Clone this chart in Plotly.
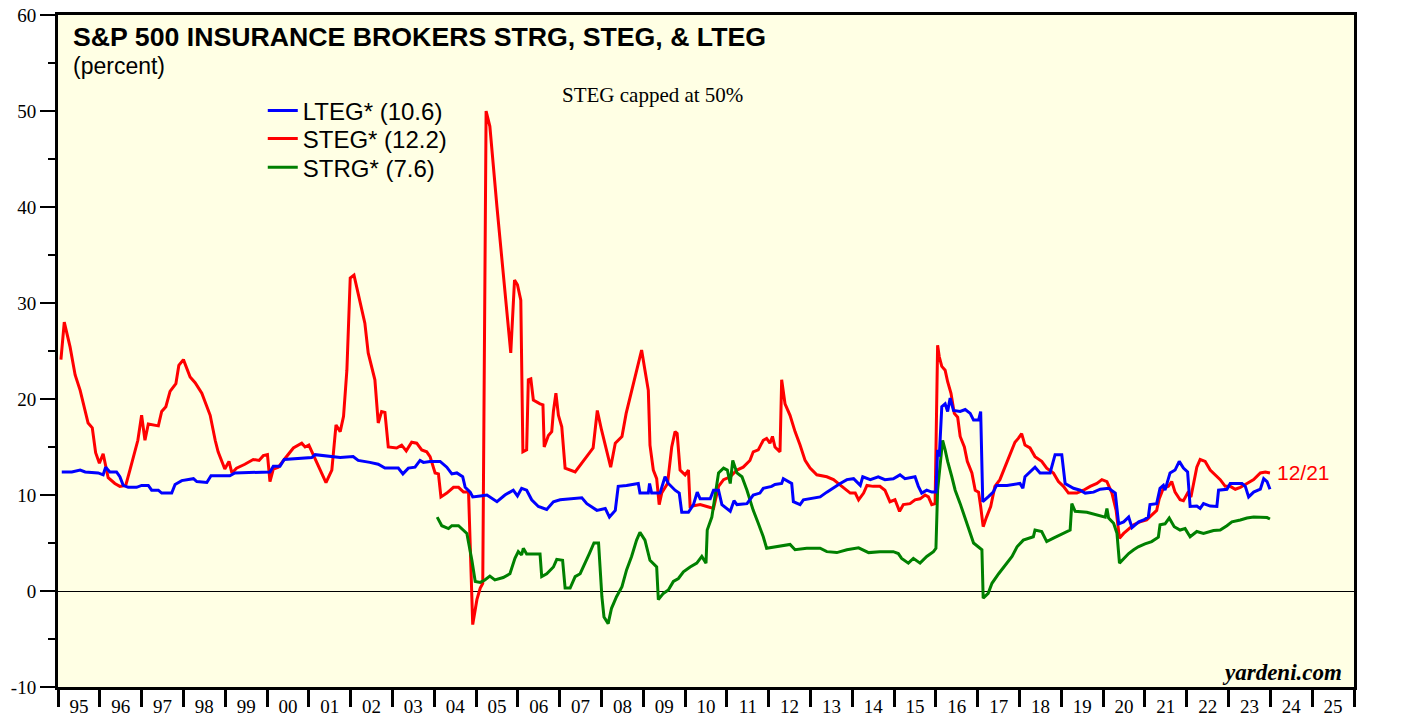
import plotly.graph_objects as go

# ---- data (decimal years, percent) ----
steg_x = [1995.07,1995.15,1995.29,1995.41,1995.53,1995.72,1995.82,1995.90,1995.99,1996.08,1996.20,1996.36,1996.48,1996.62,1996.72,1996.84,1996.91,1997.00,1997.08,1997.16,1997.40,1997.48,1997.58,1997.68,1997.82,1997.89,1998.00,1998.16,1998.28,1998.44,1998.64,1998.76,1998.83,1998.99,1999.09,1999.16,1999.27,1999.47,1999.67,1999.81,1999.91,2000.01,2000.07,2000.15,2000.27,2000.43,2000.63,2000.83,2000.91,2001.00,2001.11,2001.27,2001.41,2001.55,2001.65,2001.75,2001.83,2001.91,2001.99,2002.08,2002.18,2002.34,2002.42,2002.58,2002.66,2002.74,2002.82,2002.90,2003.10,2003.22,2003.33,2003.46,2003.58,2003.70,2003.82,2003.90,2004.02,2004.10,2004.16,2004.30,2004.46,2004.58,2004.70,2004.82,2004.92,2005.02,2005.10,2005.16,2005.24,2005.33,2005.50,2005.65,2005.83,2005.92,2005.99,2006.07,2006.12,2006.21,2006.25,2006.31,2006.37,2006.53,2006.60,2006.63,2006.73,2006.81,2006.85,2006.91,2006.97,2007.05,2007.13,2007.37,2007.57,2007.73,2007.80,2007.90,2008.00,2008.11,2008.22,2008.33,2008.49,2008.59,2008.72,2008.84,2008.96,2009.04,2009.12,2009.16,2009.24,2009.32,2009.38,2009.44,2009.58,2009.68,2009.76,2009.81,2009.88,2010.00,2010.08,2010.12,2010.36,2010.52,2010.68,2010.80,2010.92,2011.08,2011.24,2011.39,2011.55,2011.63,2011.75,2011.87,2011.95,2012.03,2012.09,2012.15,2012.27,2012.31,2012.39,2012.51,2012.63,2012.75,2012.87,2012.99,2013.15,2013.39,2013.55,2013.75,2013.95,2014.07,2014.15,2014.27,2014.35,2014.50,2014.66,2014.78,2014.90,2015.02,2015.13,2015.22,2015.38,2015.50,2015.62,2015.74,2015.82,2015.90,2015.98,2016.04,2016.08,2016.14,2016.22,2016.28,2016.36,2016.44,2016.52,2016.58,2016.68,2016.75,2016.86,2016.94,2017.02,2017.07,2017.13,2017.21,2017.31,2017.41,2017.53,2017.65,2017.77,2017.89,2017.97,2018.05,2018.13,2018.25,2018.37,2018.53,2018.65,2018.81,2018.93,2019.05,2019.17,2019.37,2019.53,2019.69,2019.85,2019.97,2020.09,2020.21,2020.31,2020.39,2020.49,2020.61,2020.73,2020.88,2021.04,2021.16,2021.28,2021.34,2021.44,2021.56,2021.64,2021.72,2021.84,2021.92,2022.02,2022.10,2022.16,2022.24,2022.32,2022.44,2022.56,2022.68,2022.80,2022.92,2023.04,2023.16,2023.28,2023.44,2023.60,2023.76,2023.88,2023.99]
steg_y = [24.1,28.0,25.4,22.5,20.9,17.5,17.0,14.4,13.3,14.3,11.8,11.2,10.9,11.0,12.6,14.4,15.7,18.3,15.7,17.4,17.2,18.7,19.2,20.8,21.6,23.5,24.1,22.3,21.7,20.6,18.3,15.7,14.5,12.7,13.5,12.3,12.8,13.2,13.7,13.6,14.1,14.2,11.4,12.7,12.9,13.8,14.9,15.4,15.0,15.2,14.2,12.6,11.3,12.6,17.3,16.6,18.2,23.0,32.6,32.9,31.0,27.9,24.8,22.0,17.5,18.7,18.6,15.0,14.9,15.2,14.6,15.5,15.4,14.7,14.5,14.0,12.3,12.2,9.8,10.2,10.8,10.8,10.3,10.3,-3.5,-0.9,0.3,0.8,50.0,48.4,40.0,33.1,24.8,32.4,31.9,30.3,14.5,14.7,22.0,22.1,19.9,19.5,19.4,15.0,16.2,16.6,18.7,20.6,18.3,17.1,12.8,12.4,13.5,14.5,14.9,18.8,16.8,14.7,12.9,15.4,16.1,18.5,20.8,22.7,25.1,23.0,20.9,15.2,12.6,11.7,9.0,10.2,11.2,15.0,16.6,16.4,12.6,12.1,12.6,8.8,9.0,8.8,8.6,10.9,11.6,11.9,12.6,12.9,13.6,14.5,14.7,15.7,15.9,15.4,16.1,15.0,14.5,22.0,19.5,18.3,16.6,15.2,13.6,12.8,12.1,11.9,11.6,10.9,10.2,10.2,9.5,10.2,11.0,10.9,10.9,10.5,9.3,9.5,8.3,9.0,9.1,9.5,9.6,10.0,9.8,9.0,9.1,25.6,24.4,23.4,23.0,21.8,20.6,18.5,18.1,16.1,15.0,13.5,12.3,10.5,10.3,8.8,6.7,7.7,8.8,10.9,11.6,12.9,14.2,15.5,15.9,16.4,15.2,14.9,14.0,13.5,12.8,12.3,11.4,10.9,10.2,10.2,10.5,10.9,11.2,11.6,11.4,10.2,8.4,5.5,6.0,6.5,6.9,7.2,7.4,7.9,8.4,9.6,10.7,10.9,11.4,10.3,9.5,9.4,10.2,9.8,11.2,12.9,13.7,13.5,12.6,12.1,11.6,10.9,10.9,10.6,10.8,11.2,11.6,12.3,12.4,12.3]

lteg_x = [1995.09,1995.33,1995.53,1995.65,1995.96,1996.08,1996.14,1996.24,1996.40,1996.48,1996.56,1996.68,1996.88,1997.00,1997.16,1997.24,1997.40,1997.48,1997.72,1997.80,1997.96,1998.16,1998.24,1998.32,1998.56,1998.66,1999.11,1999.23,2000.07,2000.15,2000.31,2000.41,2000.87,2001.07,2001.15,2001.31,2001.63,2001.75,2002.06,2002.18,2002.46,2002.66,2002.82,2003.14,2003.25,2003.38,2003.54,2003.66,2003.74,2003.90,2004.14,2004.30,2004.42,2004.54,2004.68,2004.74,2004.86,2004.92,2005.10,2005.26,2005.50,2005.69,2005.89,2005.99,2006.09,2006.21,2006.33,2006.49,2006.69,2006.85,2007.01,2007.33,2007.53,2007.65,2007.89,2008.09,2008.19,2008.33,2008.40,2008.60,2008.88,2008.92,2009.12,2009.15,2009.20,2009.40,2009.52,2009.60,2009.76,2009.86,2009.92,2010.08,2010.20,2010.29,2010.36,2010.60,2010.68,2010.80,2010.88,2011.08,2011.17,2011.24,2011.48,2011.63,2011.79,2011.87,2012.07,2012.15,2012.31,2012.35,2012.47,2012.55,2012.59,2012.75,2012.83,2013.07,2013.23,2013.39,2013.59,2013.71,2013.87,2014.03,2014.19,2014.25,2014.43,2014.62,2014.78,2014.98,2015.14,2015.26,2015.50,2015.58,2015.66,2015.78,2015.90,2016.00,2016.04,2016.08,2016.14,2016.22,2016.28,2016.34,2016.42,2016.58,2016.70,2016.82,2016.90,2017.02,2017.07,2017.12,2017.25,2017.37,2017.45,2017.70,2018.01,2018.08,2018.13,2018.25,2018.37,2018.49,2018.73,2018.85,2019.01,2019.09,2019.29,2019.45,2019.57,2019.77,2019.93,2020.13,2020.29,2020.37,2020.49,2020.61,2020.69,2020.85,2020.97,2021.08,2021.12,2021.28,2021.36,2021.44,2021.48,2021.60,2021.72,2021.82,2021.92,2022.02,2022.08,2022.24,2022.32,2022.40,2022.56,2022.72,2022.76,2022.96,2023.04,2023.32,2023.40,2023.48,2023.60,2023.76,2023.84,2023.92,2023.99]
lteg_y = [12.4,12.4,12.6,12.4,12.3,12.1,12.9,12.4,12.4,11.9,11.0,10.8,10.8,11.0,11.0,10.5,10.5,10.2,10.2,11.1,11.5,11.6,11.7,11.4,11.3,12.0,12.0,12.3,12.4,13.0,13.0,13.7,13.8,13.9,14.2,14.1,13.9,13.9,14.0,13.6,13.4,13.2,12.8,12.8,12.2,12.8,12.9,13.6,13.4,13.5,13.5,12.9,12.2,12.3,11.9,10.8,10.3,9.8,9.9,10.0,9.3,10.0,10.5,9.9,10.7,10.5,9.5,8.8,8.5,9.3,9.5,9.6,9.7,9.1,8.4,8.6,7.7,8.4,10.9,11.0,11.2,10.2,10.2,11.2,10.2,10.2,11.9,11.2,10.5,10.2,8.2,8.2,9.0,10.3,9.6,9.6,10.5,10.5,9.0,8.3,9.4,9.0,9.1,10.0,10.2,10.7,10.9,11.1,11.2,11.7,11.4,11.2,9.3,9.0,9.5,9.7,9.8,10.3,10.9,11.2,11.6,11.7,11.0,11.9,11.6,11.9,11.6,11.7,12.1,11.7,11.9,10.9,10.2,10.5,10.3,10.3,14.7,14.0,19.2,19.5,18.7,20.1,18.8,18.7,18.9,18.5,17.8,17.8,18.7,9.3,9.8,10.3,11.0,11.0,11.2,10.7,11.9,12.4,12.9,12.3,12.3,14.2,14.2,11.2,10.7,10.5,10.2,10.3,10.6,10.7,10.2,7.0,7.2,7.7,6.6,7.2,7.4,7.7,9.0,9.1,10.7,11.0,10.5,12.3,12.6,13.5,12.8,12.4,8.8,8.85,8.6,9.1,8.85,8.8,10.5,10.6,11.2,11.2,10.9,9.8,10.3,10.6,11.7,11.4,10.6]

strg_x = [2004.07,2004.18,2004.34,2004.42,2004.58,2004.78,2004.90,2004.98,2005.10,2005.21,2005.33,2005.45,2005.65,2005.81,2005.93,2006.01,2006.09,2006.13,2006.21,2006.53,2006.57,2006.69,2006.85,2006.93,2007.07,2007.13,2007.25,2007.37,2007.49,2007.61,2007.71,2007.82,2007.93,2008.01,2008.06,2008.16,2008.24,2008.36,2008.49,2008.60,2008.72,2008.84,2008.92,2009.04,2009.16,2009.32,2009.36,2009.48,2009.60,2009.72,2009.84,2009.96,2010.12,2010.28,2010.40,2010.50,2010.53,2010.64,2010.72,2010.80,2010.92,2011.01,2011.08,2011.14,2011.24,2011.36,2011.48,2011.63,2011.75,2011.87,2011.95,2012.19,2012.51,2012.63,2012.91,2013.23,2013.39,2013.63,2013.87,2014.15,2014.39,2014.66,2014.98,2015.10,2015.18,2015.34,2015.46,2015.62,2015.78,2015.94,2016.00,2016.04,2016.10,2016.16,2016.22,2016.28,2016.38,2016.46,2016.58,2016.66,2016.78,2016.90,2017.10,2017.13,2017.25,2017.34,2017.50,2017.66,2017.82,2017.94,2018.09,2018.33,2018.37,2018.53,2018.65,2018.81,2019.05,2019.21,2019.25,2019.33,2019.61,2019.85,2020.05,2020.09,2020.13,2020.25,2020.33,2020.39,2020.49,2020.61,2020.73,2020.84,2021.00,2021.16,2021.32,2021.36,2021.48,2021.58,2021.70,2021.84,2021.96,2022.08,2022.24,2022.40,2022.64,2022.80,2022.96,2023.08,2023.28,2023.44,2023.60,2023.76,2023.92,2023.99]
strg_y = [7.7,6.8,6.5,6.8,6.8,6.0,3.2,1.0,0.9,1.15,1.55,1.15,1.4,1.8,3.4,4.1,3.75,4.45,3.85,3.85,1.5,1.8,2.5,3.3,3.2,0.3,0.3,1.5,1.8,3.05,3.9,5.0,5.0,-0.6,-2.7,-3.4,-1.8,-0.6,0.45,2.2,3.6,5.3,6.1,5.3,3.2,2.5,-0.9,-0.25,0.1,1.0,1.3,2.0,2.5,2.9,3.6,2.9,6.35,7.7,10.2,12.3,12.8,12.6,11.2,13.6,12.3,11.9,10.5,8.4,7.05,5.65,4.45,4.6,4.85,4.3,4.45,4.45,4.1,4.0,4.3,4.5,4.0,4.1,4.1,3.9,3.4,2.9,3.4,2.9,3.6,4.1,4.45,10.5,13.3,15.7,14.7,13.5,11.9,10.5,9.1,8.1,6.7,5.0,4.3,-0.75,-0.25,0.8,1.8,2.7,3.6,4.6,5.3,5.65,6.35,6.2,5.15,5.5,6.0,6.35,9.1,8.3,8.2,7.9,7.7,8.6,7.6,7.05,6.0,2.9,3.4,3.9,4.3,4.6,4.9,5.15,5.6,6.9,7.0,7.6,6.7,6.35,6.5,5.65,6.2,6.0,6.3,6.35,6.8,7.2,7.4,7.6,7.7,7.65,7.65,7.5]

year_ticks = list(range(1995, 2027))
year_label_pos = [y + 0.5 for y in range(1995, 2026)]
year_labels = [f"{y % 100:02d}" for y in range(1995, 2026)]
y_ticks = list(range(-10, 61, 10))
y_labels = [str(v) for v in y_ticks]

SERIF = "Liberation Serif"
SANS = "Liberation Sans"

fig = go.Figure()
fig.add_trace(go.Scatter(x=steg_x, y=steg_y, mode="lines", name="STEG* (12.2)",
                         line=dict(color="#FF0000", width=3), legend="legend2"))
fig.add_trace(go.Scatter(x=strg_x, y=strg_y, mode="lines", name="STRG* (7.6)",
                         line=dict(color="#008000", width=3), legend="legend3"))
fig.add_trace(go.Scatter(x=lteg_x, y=lteg_y, mode="lines", name="LTEG* (10.6)",
                         line=dict(color="#0000FF", width=3), legend="legend"))

yaxis_common = dict(range=[-10, 60], tickvals=y_ticks, ticktext=y_labels,
                    ticks="outside", ticklen=15, tickwidth=2, tickcolor="black",
                    tickfont=dict(family=SERIF, size=19, color="black"),
                    minor=dict(dtick=5, ticks="outside", ticklen=7, tickwidth=2, tickcolor="black"),
                    showline=True, linewidth=3, linecolor="black",
                    showgrid=False, automargin=False, fixedrange=True)

legend_common = dict(x=0.158, xanchor="left", yanchor="top", bgcolor="rgba(0,0,0,0)",
                     font=dict(family=SANS, size=24, color="black"))

fig.update_layout(
    width=1419, height=717, autosize=False,
    margin=dict(l=58, r=65, t=15, b=30, pad=0),
    paper_bgcolor="white",
    plot_bgcolor="#FFFFE4",
    showlegend=True,
    legend=dict(**legend_common, y=0.8906),
    legend2=dict(**legend_common, y=0.849),
    legend3=dict(**legend_common, y=0.8065),
    xaxis=dict(range=[1995, 2026], tickvals=year_label_pos, ticktext=year_labels,
               ticks="", ticklabelstandoff=0,
               tickfont=dict(family=SERIF, size=19, color="black"),
               minor=dict(tickvals=year_ticks, ticks="outside", ticklen=17, tickwidth=2.5, tickcolor="black"),
               showline=True, linewidth=3, linecolor="black", mirror=True,
               showgrid=False, zeroline=False, fixedrange=True, automargin=False),
    yaxis=dict(**yaxis_common, mirror=True, zeroline=True, zerolinecolor="black", zerolinewidth=1),
    yaxis2=dict(**yaxis_common, matches="y", overlaying="y", side="right", anchor="x", zeroline=False),
)

fig.add_annotation(text="<b>S&P 500 INSURANCE BROKERS STRG, STEG, & LTEG</b>",
                   xref="paper", yref="paper", x=0.010, y=0.967, xanchor="left", yanchor="middle",
                   showarrow=False, font=dict(family=SANS, size=26.7, color="black"))
fig.add_annotation(text="(percent)", xref="paper", yref="paper", x=0.010, y=0.924,
                   xanchor="left", yanchor="middle", showarrow=False,
                   font=dict(family=SANS, size=23, color="black"))
fig.add_annotation(text="STEG capped at 50%", xref="paper", yref="paper", x=0.459, y=0.881,
                   xanchor="center", yanchor="middle", showarrow=False,
                   font=dict(family=SERIF, size=21, color="black"))
fig.add_annotation(text="12/21", xref="x", yref="y", x=2024.1, y=12.3,
                   xanchor="left", yanchor="middle", showarrow=False,
                   font=dict(family=SANS, size=21, color="#FF0000"))
fig.add_annotation(text="<b><i>yardeni.com</i></b>", xref="paper", yref="paper", x=0.992, y=0.022,
                   xanchor="right", yanchor="middle", showarrow=False,
                   font=dict(family=SERIF, size=23, color="black"))

fig.write_html("out.html", config={"displayModeBar": False},
               post_script="document.body.style.margin='0';")
